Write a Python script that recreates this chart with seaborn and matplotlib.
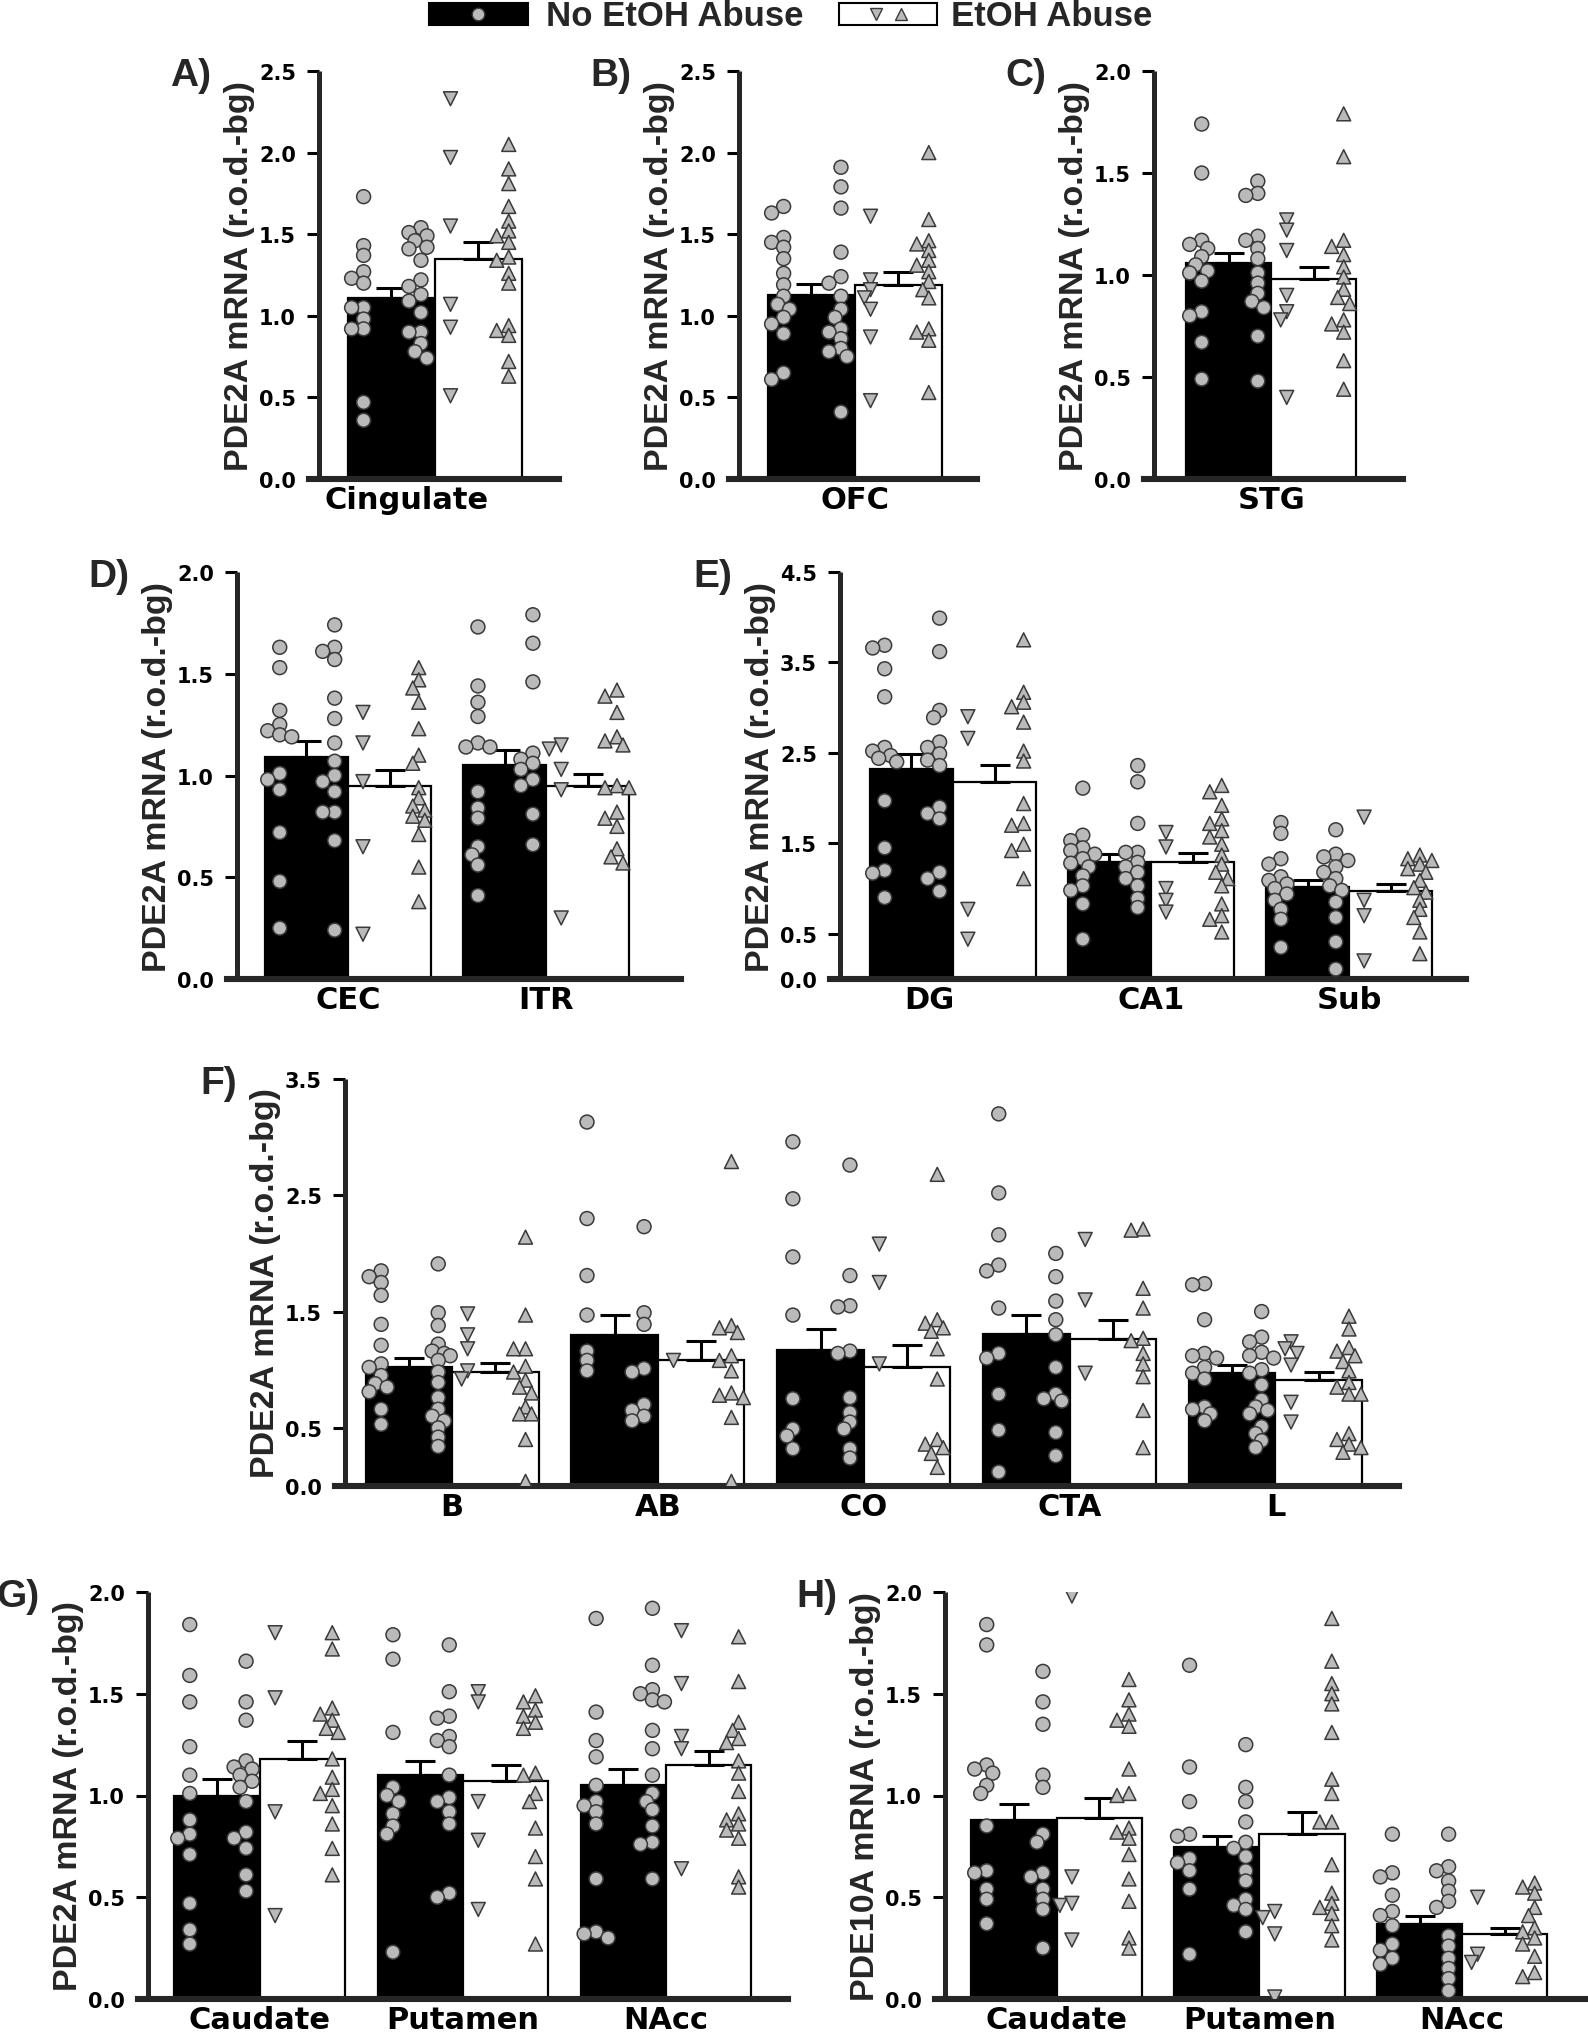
import numpy as np
import pandas as pd
import matplotlib
matplotlib.use('Agg')
import matplotlib.pyplot as plt
from matplotlib.patches import Rectangle
from matplotlib.lines import Line2D
from matplotlib.transforms import ScaledTranslation
import seaborn as sns

sns.set_style('ticks')
plt.rcParams['font.family'] = ['Liberation Sans', 'DejaVu Sans']
plt.rcParams['font.weight'] = 'bold'
WIDE = ['DejaVu Sans']

W, H = 1588, 2040
groups = ['No EtOH Abuse', 'EtOH Abuse']

# ---------------- data ----------------
# A) Cingulate
A_regions = ['Cingulate']
A_ctrl_mean = [1.11]
A_ctrl_sem = [0.06]
A_abuse_mean = [1.35]
A_abuse_sem = [0.10]
A_circ_l = [[1.73, 1.43, 1.37, 1.27, 1.23, 1.20, 1.05, 1.05, 0.98, 0.92, 0.92, 0.47, 0.36]]
A_circ_r = [[1.54, 1.51, 1.49, 1.46, 1.42, 1.41, 1.34, 1.22, 1.18, 1.13, 1.09, 1.02, 0.90, 0.90, 0.83, 0.78, 0.74]]
A_tri_dn = [[2.33, 1.97, 1.55, 1.07, 0.93, 0.51]]
A_tri_up = [[2.05, 1.90, 1.81, 1.67, 1.58, 1.52, 1.49, 1.45, 1.36, 1.34, 1.26, 1.20, 0.94, 0.91, 0.88, 0.72, 0.63]]

# B) OFC
B_regions = ['OFC']
B_ctrl_mean = [1.13]
B_ctrl_sem = [0.065]
B_abuse_mean = [1.19]
B_abuse_sem = [0.08]
B_circ_l = [[1.67, 1.63, 1.48, 1.45, 1.42, 1.35, 1.26, 1.19, 1.12, 1.07, 1.04, 0.99, 0.95, 0.89, 0.65, 0.61]]
B_circ_r = [[1.91, 1.79, 1.66, 1.39, 1.24, 1.20, 1.12, 1.04, 0.99, 0.92, 0.90, 0.86, 0.80, 0.78, 0.75, 0.41]]
B_tri_dn = [[1.61, 1.22, 1.16, 1.11, 1.04, 0.87, 0.48]]
B_tri_up = [[2.00, 1.59, 1.46, 1.44, 1.40, 1.34, 1.31, 1.27, 1.21, 1.16, 1.11, 0.92, 0.90, 0.85, 0.53]]

# C) STG
C_regions = ['STG']
C_ctrl_mean = [1.06]
C_ctrl_sem = [0.05]
C_abuse_mean = [0.98]
C_abuse_sem = [0.06]
C_circ_l = [[1.74, 1.50, 1.17, 1.15, 1.13, 1.09, 1.05, 1.02, 1.01, 0.97, 0.82, 0.80, 0.67, 0.49]]
C_circ_r = [[1.46, 1.40, 1.39, 1.19, 1.17, 1.13, 1.08, 1.01, 0.96, 0.91, 0.87, 0.84, 0.70, 0.48]]
C_tri_dn = [[1.27, 1.22, 1.12, 0.90, 0.82, 0.78, 0.40]]
C_tri_up = [[1.79, 1.58, 1.17, 1.14, 1.10, 1.04, 0.99, 0.93, 0.89, 0.86, 0.78, 0.76, 0.72, 0.58, 0.44]]

# D) entorhinal
D_regions = ['CEC', 'ITR']
D_ctrl_mean = [1.09, 1.05]
D_ctrl_sem = [0.08, 0.075]
D_abuse_mean = [0.95, 0.95]
D_abuse_sem = [0.075, 0.055]
D_circ_l = [[1.63, 1.53, 1.32, 1.25, 1.22, 1.20, 1.19, 1.01, 0.98, 0.93, 0.72, 0.48, 0.25],
            [1.73, 1.44, 1.36, 1.29, 1.16, 1.14, 1.14, 0.92, 0.84, 0.79, 0.65, 0.61, 0.56, 0.41]]
D_circ_r = [[1.74, 1.63, 1.61, 1.57, 1.38, 1.28, 1.16, 1.07, 1.00, 0.97, 0.92, 0.82, 0.82, 0.68, 0.24],
            [1.79, 1.65, 1.46, 1.11, 1.08, 1.06, 1.03, 0.98, 0.95, 0.81, 0.66]]
D_tri_dn = [[1.31, 1.16, 0.97, 0.65, 0.22], [1.15, 1.13, 1.03, 0.93, 0.30]]
D_tri_up = [[1.53, 1.47, 1.43, 1.36, 1.23, 1.10, 1.06, 0.94, 0.89, 0.85, 0.83, 0.80, 0.78, 0.71, 0.55, 0.38],
            [1.42, 1.39, 1.31, 1.19, 1.17, 1.15, 0.95, 0.94, 0.94, 0.82, 0.79, 0.75, 0.64, 0.60, 0.57]]

# E) hippocampus
E_regions = ['DG', 'CA1', 'Sub']
E_ctrl_mean = [2.32, 1.29, 1.02]
E_ctrl_sem = [0.17, 0.09, 0.07]
E_abuse_mean = [2.18, 1.29, 0.97]
E_abuse_sem = [0.19, 0.10, 0.08]
E_circ_l = [[3.69, 3.66, 3.43, 3.12, 2.56, 2.52, 2.47, 2.44, 2.40, 1.97, 1.45, 1.20, 1.17, 0.90],
            [2.11, 1.59, 1.53, 1.45, 1.42, 1.38, 1.33, 1.28, 1.24, 1.14, 1.03, 0.98, 0.83, 0.44],
            [1.73, 1.61, 1.33, 1.27, 1.13, 1.09, 1.05, 1.00, 0.94, 0.87, 0.77, 0.66, 0.35]]
E_circ_r = [[3.99, 3.62, 2.97, 2.89, 2.62, 2.56, 2.49, 2.42, 2.36, 1.90, 1.83, 1.77, 1.18, 1.11, 0.97],
            [2.36, 2.18, 1.72, 1.40, 1.40, 1.29, 1.24, 1.18, 1.11, 1.03, 0.89, 0.79],
            [1.65, 1.38, 1.35, 1.31, 1.24, 1.18, 1.11, 1.03, 0.98, 0.85, 0.68, 0.41, 0.11]]
E_tri_dn = [[2.90, 2.66, 0.77, 0.44], [1.62, 1.46, 1.00, 0.87, 0.74], [1.79, 0.87, 0.70, 0.20]]
E_tri_up = [[3.75, 3.17, 3.06, 3.01, 2.84, 2.52, 2.41, 1.94, 1.72, 1.70, 1.49, 1.42, 1.11],
            [2.14, 2.07, 1.92, 1.77, 1.72, 1.64, 1.57, 1.49, 1.37, 1.27, 1.18, 1.11, 1.03, 0.83, 0.70, 0.66, 0.52],
            [1.37, 1.33, 1.31, 1.27, 1.22, 1.18, 1.09, 1.01, 0.96, 0.87, 0.77, 0.68, 0.52, 0.28]]

# F) amygdala
F_regions = ['B', 'AB', 'CO', 'CTA', 'L']
F_ctrl_mean = [1.02, 1.30, 1.17, 1.31, 0.97]
F_ctrl_sem = [0.08, 0.17, 0.18, 0.16, 0.07]
F_abuse_mean = [0.98, 1.08, 1.02, 1.26, 0.91]
F_abuse_sem = [0.08, 0.17, 0.19, 0.17, 0.07]
F_circ_l = [[1.85, 1.80, 1.75, 1.64, 1.39, 1.21, 1.05, 1.02, 0.95, 0.88, 0.85, 0.81, 0.66, 0.53],
            [3.13, 2.30, 1.81, 1.47, 1.16, 1.08, 0.99],
            [2.96, 2.47, 1.97, 1.47, 0.75, 0.49, 0.43, 0.32],
            [3.20, 2.52, 2.16, 1.90, 1.85, 1.53, 1.14, 1.10, 0.79, 0.48, 0.12],
            [1.74, 1.73, 1.43, 1.14, 1.12, 1.10, 1.02, 0.97, 0.92, 0.68, 0.66, 0.62, 0.56]]
F_circ_r = [[1.91, 1.49, 1.38, 1.22, 1.16, 1.14, 1.12, 1.08, 0.98, 0.89, 0.76, 0.66, 0.60, 0.56, 0.50, 0.42, 0.34],
            [2.23, 1.49, 1.39, 1.01, 0.98, 0.70, 0.65, 0.60, 0.56],
            [2.76, 1.81, 1.55, 1.54, 1.16, 1.14, 0.76, 0.63, 0.55, 0.49, 0.32, 0.24],
            [2.00, 1.80, 1.59, 1.43, 1.30, 1.02, 0.79, 0.75, 0.73, 0.46, 0.26],
            [1.50, 1.28, 1.24, 1.15, 1.12, 1.10, 1.00, 0.97, 0.87, 0.74, 0.68, 0.65, 0.62, 0.51, 0.45, 0.39, 0.33]]
F_tri_dn = [[1.48, 1.30, 1.18, 0.99, 0.92], [1.08], [2.08, 1.75, 1.05], [2.12, 1.60, 0.97],
            [1.24, 1.18, 1.14, 1.04, 0.72, 0.55]]
F_tri_up = [[2.14, 1.47, 1.18, 1.18, 1.03, 0.98, 0.91, 0.85, 0.80, 0.68, 0.62, 0.62, 0.40, 0.04],
            [2.79, 1.38, 1.36, 1.32, 1.12, 1.08, 0.99, 0.80, 0.78, 0.76, 0.59, 0.04],
            [2.68, 1.43, 1.40, 1.36, 1.33, 1.18, 0.92, 0.40, 0.36, 0.33, 0.28, 0.16],
            [2.21, 2.20, 1.70, 1.53, 1.27, 1.25, 1.14, 1.05, 0.94, 0.65, 0.33],
            [1.46, 1.35, 1.19, 1.16, 1.12, 1.07, 0.99, 0.89, 0.85, 0.79, 0.79, 0.45, 0.40, 0.36, 0.33, 0.29]]

# G) striatum, PDE2A
G_regions = ['Caudate', 'Putamen', 'NAcc']
G_ctrl_mean = [1.00, 1.10, 1.05]
G_ctrl_sem = [0.08, 0.07, 0.08]
G_abuse_mean = [1.18, 1.07, 1.15]
G_abuse_sem = [0.09, 0.08, 0.07]
G_circ_l = [[1.84, 1.59, 1.46, 1.24, 1.10, 1.01, 0.88, 0.81, 0.79, 0.71, 0.47, 0.34, 0.27],
            [1.79, 1.67, 1.31, 1.04, 1.00, 0.97, 0.91, 0.85, 0.81, 0.23],
            [1.87, 1.41, 1.27, 1.19, 1.05, 0.97, 0.95, 0.92, 0.86, 0.59, 0.33, 0.32, 0.30]]
G_circ_r = [[1.66, 1.46, 1.37, 1.17, 1.14, 1.13, 1.10, 1.07, 1.04, 0.97, 0.82, 0.79, 0.74, 0.61, 0.53],
            [1.74, 1.51, 1.39, 1.38, 1.29, 1.27, 1.24, 1.10, 0.99, 0.97, 0.92, 0.86, 0.52, 0.50],
            [1.92, 1.64, 1.52, 1.50, 1.47, 1.46, 1.32, 1.23, 1.10, 1.01, 0.97, 0.93, 0.85, 0.77, 0.76, 0.59]]
G_tri_dn = [[1.80, 1.48, 0.92, 0.41], [1.51, 1.46, 0.97, 0.78, 0.44], [1.81, 1.55, 1.29, 1.23, 0.64]]
G_tri_up = [[1.80, 1.72, 1.43, 1.40, 1.37, 1.33, 1.31, 1.18, 1.09, 1.03, 1.01, 0.95, 0.86, 0.74, 0.61],
            [1.49, 1.46, 1.42, 1.39, 1.36, 1.33, 1.11, 1.10, 1.01, 0.97, 0.84, 0.70, 0.59, 0.27],
            [1.78, 1.56, 1.36, 1.32, 1.28, 1.26, 1.17, 1.11, 1.02, 0.91, 0.88, 0.86, 0.83, 0.79, 0.60, 0.55]]

# H) striatum, PDE10A
H_regions = ['Caudate', 'Putamen', 'NAcc']
H_ctrl_mean = [0.88, 0.745, 0.37]
H_ctrl_sem = [0.08, 0.055, 0.04]
H_abuse_mean = [0.89, 0.81, 0.32]
H_abuse_sem = [0.10, 0.11, 0.03]
H_circ_l = [[1.84, 1.74, 1.15, 1.13, 1.11, 1.05, 1.01, 0.85, 0.63, 0.62, 0.54, 0.49, 0.37],
            [1.64, 1.14, 0.97, 0.81, 0.80, 0.69, 0.67, 0.63, 0.54, 0.22],
            [0.81, 0.62, 0.60, 0.51, 0.43, 0.41, 0.36, 0.27, 0.24, 0.20, 0.17]]
H_circ_r = [[1.61, 1.46, 1.35, 1.10, 1.04, 0.81, 0.77, 0.62, 0.60, 0.54, 0.49, 0.44, 0.25],
            [1.25, 1.04, 0.97, 0.87, 0.77, 0.74, 0.70, 0.63, 0.58, 0.49, 0.46, 0.44, 0.33],
            [0.81, 0.65, 0.63, 0.58, 0.53, 0.48, 0.45, 0.31, 0.26, 0.20, 0.15, 0.10, 0.04]]
H_tri_dn = [[1.98, 0.60, 0.47, 0.46, 0.29], [0.43, 0.40, 0.32, 0.01], [0.50, 0.22, 0.18]]
H_tri_up = [[1.57, 1.47, 1.40, 1.37, 1.34, 1.13, 1.01, 1.00, 0.84, 0.82, 0.79, 0.71, 0.59, 0.48, 0.30, 0.25],
            [1.87, 1.66, 1.55, 1.50, 1.45, 1.31, 1.08, 1.01, 0.87, 0.87, 0.66, 0.52, 0.47, 0.45, 0.42, 0.36, 0.29],
            [0.57, 0.55, 0.52, 0.45, 0.41, 0.35, 0.33, 0.30, 0.27, 0.21, 0.13, 0.11]]

# y axes
ticks_25 = [0.0, 0.5, 1.0, 1.5, 2.0, 2.5]
ticks_20 = [0.0, 0.5, 1.0, 1.5, 2.0]
ticks_45 = [0.0, 0.5, 1.5, 2.5, 3.5, 4.5]
ticks_35 = [0.0, 0.5, 1.5, 2.5, 3.5]
ylab_2a = 'PDE2A mRNA (r.o.d.-bg)'
ylab_10a = 'PDE10A mRNA (r.o.d.-bg)'

# ---------------- drawing ----------------
BW = 0.42  # width of one bar (group spacing = 1)
fig = plt.figure(figsize=(W / 100, H / 100), dpi=100)


def spread(vals, ypx, xpx, step=6.0, tol=9.0):
    # small sideways shifts so that coincident points stay visible
    placed, offs = [], []
    for v in vals:
        y = v * ypx
        for k in [0, -1, 1, -2, 2]:
            x = k * step
            if all((x - a) ** 2 + (y - b) ** 2 >= tol ** 2 for a, b in placed):
                break
        placed.append((x, y))
        offs.append(x / xpx)
    return offs


def panel(letter, regions, c_mean, c_sem, a_mean, a_sem, circ_l, circ_r, tri_dn, tri_up,
          box, pads, yticks, ylabel, label_shift=None):
    left, right, top, bottom = box
    n = len(regions)
    x0, x1 = -pads[0], n - 1 + pads[1]
    ppu = (right - left) / (x1 - x0)
    ext = 10 / ppu
    ymax = yticks[-1]
    ypx = (bottom - top) / ymax
    ax_w = right - left + 10
    ax = fig.add_axes([(left - 10) / W, 1 - bottom / H, ax_w / W, (bottom - top) / H])

    means = pd.DataFrame({'region': regions * 2,
                          'group': [groups[0]] * n + [groups[1]] * n,
                          'value': list(c_mean) + list(a_mean)})
    sns.barplot(data=means, x='region', y='value', hue='group', order=regions, hue_order=groups,
                palette={groups[0]: 'black', groups[1]: 'white'}, saturation=1, width=2 * BW,
                errorbar=None, edgecolor='black', linewidth=1.6, legend=False, ax=ax)

    pos = np.arange(n)
    for xs, m, s in [(pos - BW / 2, c_mean, c_sem), (pos + BW / 2, a_mean, a_sem)]:
        ax.errorbar(xs, m, yerr=[np.zeros(n), s], fmt='none', ecolor='black',
                    elinewidth=2.2, capsize=10.5, capthick=2.2, zorder=3)

    rows = []
    for i in range(n):
        for vals, dx, kind in [(circ_l[i], -0.82 * BW, 'circle'), (circ_r[i], -0.16 * BW, 'circle'),
                               (tri_dn[i], 0.18 * BW, 'down'), (tri_up[i], 0.85 * BW, 'up')]:
            for v, o in zip(vals, spread(vals, ypx, ppu)):
                rows.append((i + dx + o, v, kind))
    pts = pd.DataFrame(rows, columns=['x', 'y', 'kind'])
    sns.scatterplot(data=pts, x='x', y='y', style='kind', style_order=['circle', 'down', 'up'],
                    markers={'circle': 'o', 'down': 'v', 'up': '^'}, color='#bababa',
                    edgecolor='#3a3a3a', linewidth=1.1, s=100, legend=False, ax=ax, zorder=4)

    ax.set_xlim(x0 - ext, x1)
    ax.set_ylim(0, ymax)
    for sp in ['top', 'right']:
        ax.spines[sp].set_visible(False)
    ax.spines['left'].set_position(('data', x0))
    ax.spines['left'].set_linewidth(3.6)
    ax.spines['bottom'].set_linewidth(4.4)
    ax.spines['left'].set_capstyle('butt')
    ax.set_yticks(yticks)
    ax.set_yticklabels([f'{t:.1f}' for t in yticks], family=WIDE, fontweight='bold', fontsize=15)
    ax.set_xticks(pos)
    ax.set_xticklabels(regions, family=WIDE, fontweight='bold', fontsize=22)
    ax.tick_params(axis='y', direction='out', length=8.6, width=2.2, pad=8, colors='black')
    ax.tick_params(axis='x', length=0, pad=4, colors='black')
    if label_shift:
        # a few category names sit a little left of their bar pair
        for lab, dpx in zip(ax.get_xticklabels(), label_shift):
            lab.set_transform(lab.get_transform() + ScaledTranslation(dpx / 100, 0, fig.dpi_scale_trans))
    ax.set_xlabel('')
    # the label's right (descender) edge sits at the given x
    ax.set_ylabel(ylabel, fontsize=24.5, fontweight='bold')
    ax.yaxis.set_label_coords((-64 + 10) / ax_w, 0.5)
    fig.text((left - 108) / W, 1 - (top + 4) / H, letter, ha='right', va='center',
             fontsize=28, fontweight='bold')
    return ax


panel('A)', A_regions, A_ctrl_mean, A_ctrl_sem, A_abuse_mean, A_abuse_sem,
      A_circ_l, A_circ_r, A_tri_dn, A_tri_up, (319, 559, 72, 480), (0.56, 0.60), ticks_25, ylab_2a,
      label_shift=[-28])
panel('B)', B_regions, B_ctrl_mean, B_ctrl_sem, B_abuse_mean, B_abuse_sem,
      B_circ_l, B_circ_r, B_tri_dn, B_tri_up, (739, 977, 72, 480), (0.56, 0.59), ticks_25, ylab_2a)
panel('C)', C_regions, C_ctrl_mean, C_ctrl_sem, C_abuse_mean, C_abuse_sem,
      C_circ_l, C_circ_r, C_tri_dn, C_tri_up, (1154, 1403, 72, 480), (0.58, 0.65), ticks_20, ylab_2a)
panel('D)', D_regions, D_ctrl_mean, D_ctrl_sem, D_abuse_mean, D_abuse_sem,
      D_circ_l, D_circ_r, D_tri_dn, D_tri_up, (237, 681, 573, 980), (0.56, 0.68), ticks_20, ylab_2a)
panel('E)', E_regions, E_ctrl_mean, E_ctrl_sem, E_abuse_mean, E_abuse_sem,
      E_circ_l, E_circ_r, E_tri_dn, E_tri_up, (840, 1466, 573, 980), (0.57, 0.59), ticks_45, ylab_2a,
      label_shift=[-24, 0, 0])
panel('F)', F_regions, F_ctrl_mean, F_ctrl_sem, F_abuse_mean, F_abuse_sem,
      F_circ_l, F_circ_r, F_tri_dn, F_tri_up, (345, 1399, 1080, 1487), (0.52, 0.60), ticks_35, ylab_2a)
panel('G)', G_regions, G_ctrl_mean, G_ctrl_sem, G_abuse_mean, G_abuse_sem,
      G_circ_l, G_circ_r, G_tri_dn, G_tri_up, (148, 788, 1593, 2000), (0.55, 0.60), ticks_20, ylab_2a)
panel('H)', H_regions, H_ctrl_mean, H_ctrl_sem, H_abuse_mean, H_abuse_sem,
      H_circ_l, H_circ_r, H_tri_dn, H_tri_up, (945, 1588, 1593, 2000), (0.55, 0.62), ticks_20, ylab_10a)

# ---------------- legend across the top ----------------
def fx(x):
    return x / W


def fy(y):
    return 1 - y / H


fig.add_artist(Rectangle((fx(429), fy(26)), (528 - 429) / W, 22 / H, transform=fig.transFigure,
                         facecolor='black', edgecolor='black', lw=1.5))
fig.add_artist(Rectangle((fx(839), fy(26)), (937 - 839) / W, 22 / H, transform=fig.transFigure,
                         facecolor='white', edgecolor='black', lw=1.5))
for x, m in [(478, 'o'), (876, 'v'), (901, '^')]:
    fig.add_artist(Line2D([fx(x)], [fy(15)], marker=m, ms=9, mfc='#bababa', mec='#3a3a3a',
                          mew=1.0, ls='none', transform=fig.transFigure))
fig.text(fx(546), fy(16), groups[0], ha='left', va='center', fontsize=25, fontweight='bold')
fig.text(fx(951), fy(16), groups[1], ha='left', va='center', fontsize=25, fontweight='bold')

fig.savefig('out.png', dpi=100, facecolor='white')
